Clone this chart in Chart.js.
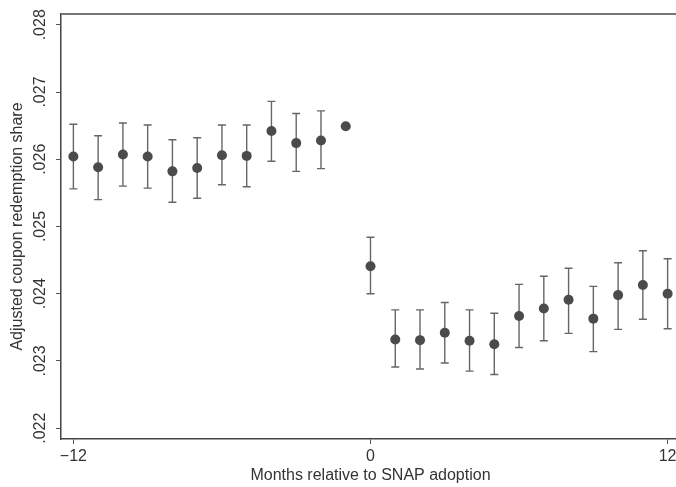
<!DOCTYPE html>
<html>
<head>
<meta charset="utf-8">
<script src="https://cdn.jsdelivr.net/npm/chart.js@4/dist/chart.umd.min.js"></script>
<style>
  html, body { margin: 0; padding: 0; background: #fff; overflow: hidden; }
  #wrap { width: 680px; height: 487px; position: relative; }
</style>
</head>
<body>
<div id="wrap"><canvas id="c"></canvas></div>
<script>
// Event-study estimates: months relative to SNAP adoption
const months = [-12, -11, -10, -9, -8, -7, -6, -5, -4, -3, -2, -1, 0, 1, 2, 3, 4, 5, 6, 7, 8, 9, 10, 11, 12];
const coef   = [0.02604, 0.02588, 0.02607, 0.02604, 0.02582, 0.02587, 0.02606, 0.02605, 0.02642, 0.02624, 0.02628, 0.02649,
                0.02441, 0.02332, 0.02331, 0.02342, 0.02330, 0.02325, 0.02367, 0.02378, 0.02391, 0.02363, 0.02398, 0.02413, 0.02400];
const ciLow  = [0.02556, 0.02540, 0.02560, 0.02557, 0.02536, 0.02542, 0.02562, 0.02559, 0.02597, 0.02582, 0.02586, null,
                0.02400, 0.02291, 0.02288, 0.02297, 0.02285, 0.02280, 0.02320, 0.02330, 0.02341, 0.02314, 0.02347, 0.02362, 0.02348];
const ciHigh = [0.02652, 0.02635, 0.02654, 0.02651, 0.02629, 0.02632, 0.02651, 0.02651, 0.02686, 0.02668, 0.02672, null,
                0.02484, 0.02376, 0.02376, 0.02387, 0.02376, 0.02371, 0.02414, 0.02426, 0.02438, 0.02411, 0.02446, 0.02464, 0.02452];

const yTicks = [0.022, 0.023, 0.024, 0.025, 0.026, 0.027, 0.028];
const yTickLabels = ['.022', '.023', '.024', '.025', '.026', '.027', '.028'];
const xTicks = [-12, 0, 12];
const xTickLabels = ['\u221212', '0', '12'];
const xTitle = 'Months relative to SNAP adoption';
const yTitle = 'Adjusted coupon redemption share';

const FONT = '"Liberation Sans", Arial, sans-serif';
const TEXT = '#333333';

const points = months.map((m, i) => ({ x: m, y: coef[i] }));

const errorBars = {
  id: 'errorBars',
  beforeDatasetsDraw(chart) {
    const { ctx, scales: { x, y } } = chart;
    ctx.save();
    ctx.strokeStyle = '#666666';
    ctx.lineWidth = 1.4;
    months.forEach((m, i) => {
      if (ciLow[i] == null || ciHigh[i] == null) return;
      const px = x.getPixelForValue(m);
      const y1 = y.getPixelForValue(ciLow[i]);
      const y2 = y.getPixelForValue(ciHigh[i]);
      ctx.beginPath();
      ctx.moveTo(px, y1); ctx.lineTo(px, y2);
      ctx.moveTo(px - 4, y1); ctx.lineTo(px + 4, y1);
      ctx.moveTo(px - 4, y2); ctx.lineTo(px + 4, y2);
      ctx.stroke();
    });
    ctx.restore();
  }
};

const frameAndText = {
  id: 'frameAndText',
  afterDraw(chart) {
    const { ctx, chartArea: a, scales: { x, y } } = chart;
    ctx.save();
    // top frame line
    ctx.strokeStyle = '#777777';
    ctx.lineWidth = 2;
    ctx.beginPath();
    ctx.moveTo(a.left, a.top); ctx.lineTo(a.right, a.top);
    ctx.stroke();

    ctx.fillStyle = TEXT;
    ctx.font = '16px ' + FONT;
    ctx.textAlign = 'center';
    ctx.textBaseline = 'middle';
    // vertical y tick labels
    yTicks.forEach((v, i) => {
      const py = y.getPixelForValue(v);
      ctx.save();
      ctx.translate(41, py);
      ctx.rotate(-Math.PI / 2);
      ctx.fillText(yTickLabels[i], 0, 0);
      ctx.restore();
    });
    // x tick labels
    xTicks.forEach((v, i) => {
      ctx.fillText(xTickLabels[i], x.getPixelForValue(v), 457);
    });
    // axis titles
    ctx.fillText(xTitle, (a.left + a.right) / 2, 476);
    ctx.save();
    ctx.translate(18, (a.top + a.bottom) / 2);
    ctx.rotate(-Math.PI / 2);
    ctx.fillText(yTitle, 0, 0);
    ctx.restore();
    ctx.restore();
  }
};

new Chart(document.getElementById('c'), {
  type: 'scatter',
  data: {
    datasets: [{
      data: points,
      pointRadius: 5,
      pointHoverRadius: 5,
      backgroundColor: '#4b4b4b',
      borderColor: '#4b4b4b',
      borderWidth: 0
    }]
  },
  options: {
    responsive: true,
    maintainAspectRatio: false,
    animation: false,
    events: [],
    layout: { padding: { top: 14, left: 0, right: 0, bottom: 0 }, autoPadding: false },
    plugins: { legend: { display: false }, tooltip: { enabled: false } },
    scales: {
      x: {
        type: 'linear',
        min: -12.5,
        max: 12.5,
        afterBuildTicks: s => { s.ticks = xTicks.map(v => ({ value: v })); },
        afterFit: s => { s.height = 48; },
        ticks: { display: false },
        grid: { drawOnChartArea: false, tickLength: 5, color: '#555555', lineWidth: 1 },
        border: { display: true, color: '#444444', width: 1.5 }
      },
      y: {
        type: 'linear',
        min: 0.02184,
        max: 0.02816,
        afterBuildTicks: s => { s.ticks = yTicks.map(v => ({ value: v })); },
        afterFit: s => { s.width = 61; },
        ticks: { display: false },
        grid: { drawOnChartArea: false, tickLength: 5, color: '#555555', lineWidth: 1 },
        border: { display: true, color: '#444444', width: 1.5 }
      }
    }
  },
  plugins: [errorBars, frameAndText]
});
</script>
</body>
</html>
